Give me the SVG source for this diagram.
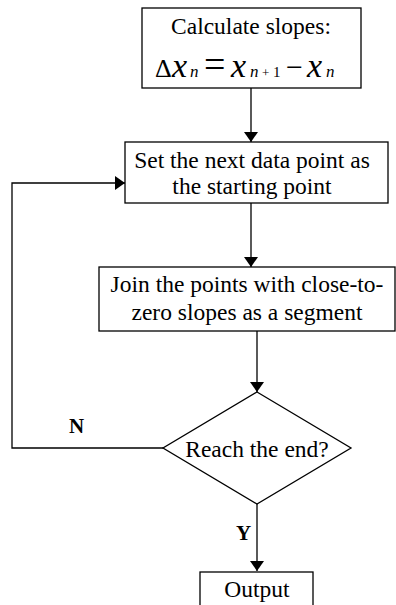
<svg xmlns="http://www.w3.org/2000/svg" width="396" height="605" viewBox="0 0 396 605">
<style>
.box{fill:#fff;stroke:#000;stroke-width:1.3}
.t{font-family:"Liberation Serif","Times New Roman",serif;font-size:23.5px;fill:#000;text-anchor:middle}
.f{font-family:"Liberation Serif","Times New Roman",serif;fill:#000}
.i{font-style:italic}
.lbl{font-family:"Liberation Serif","Times New Roman",serif;font-size:21px;font-weight:bold;fill:#000}
.ln{fill:none;stroke:#000;stroke-width:1.3}
</style>
<defs>
<marker id="ah" markerWidth="10" markerHeight="14" refX="10" refY="7" orient="auto" markerUnits="userSpaceOnUse">
<path d="M0,0 L10,7 L0,14 Z" fill="#000"/>
</marker>
</defs>
<g id="connectors">
<line class="ln" x1="251" y1="88" x2="251" y2="142" marker-end="url(#ah)"/>
<line class="ln" x1="251" y1="203" x2="251" y2="267" marker-end="url(#ah)"/>
<line class="ln" x1="257" y1="331" x2="257" y2="392" marker-end="url(#ah)"/>
<polyline class="ln" points="163,448 12,448 12,183 125,183" marker-end="url(#ah)"/>
<line class="ln" x1="257" y1="504" x2="257" y2="571" marker-end="url(#ah)"/>
<text class="lbl" x="69" y="433">N</text>
<text class="lbl" x="236" y="540">Y</text>
</g>
<g id="n1">
<rect class="box" x="142" y="8" width="219" height="80"/>
<text class="t" x="251" y="34">Calculate slopes:</text>
<text class="f" y="77"><tspan x="155" font-size="26">Δ</tspan><tspan x="172" class="i" font-size="34">x</tspan><tspan x="190" class="i" font-size="17">n</tspan><tspan x="204" font-size="38">=</tspan><tspan x="231" class="i" font-size="34">x</tspan><tspan x="250" class="i" font-size="17">n</tspan><tspan x="262" font-size="13">+</tspan><tspan x="273" font-size="15">1</tspan><tspan x="286" font-size="30">−</tspan><tspan x="307" class="i" font-size="34">x</tspan><tspan x="326" class="i" font-size="17">n</tspan></text>
</g>
<g id="n2">
<rect class="box" x="125" y="142" width="263" height="61"/>
<text class="t" x="252" y="168">Set the next data point as</text>
<text class="t" x="252" y="194">the starting point</text>
</g>
<g id="n3">
<rect class="box" x="99" y="267" width="296" height="64"/>
<text class="t" x="247" y="292">Join the points with close-to-</text>
<text class="t" x="247" y="320">zero slopes as a segment</text>
</g>
<g id="n4">
<polygon class="box" points="257,392 351,448 257,504 163,448"/>
<text class="t" x="257" y="457">Reach the end?</text>
</g>
<g id="n5">
<rect class="box" x="200" y="572" width="113" height="40"/>
<text class="t" x="257" y="597">Output</text>
</g>
</svg>
